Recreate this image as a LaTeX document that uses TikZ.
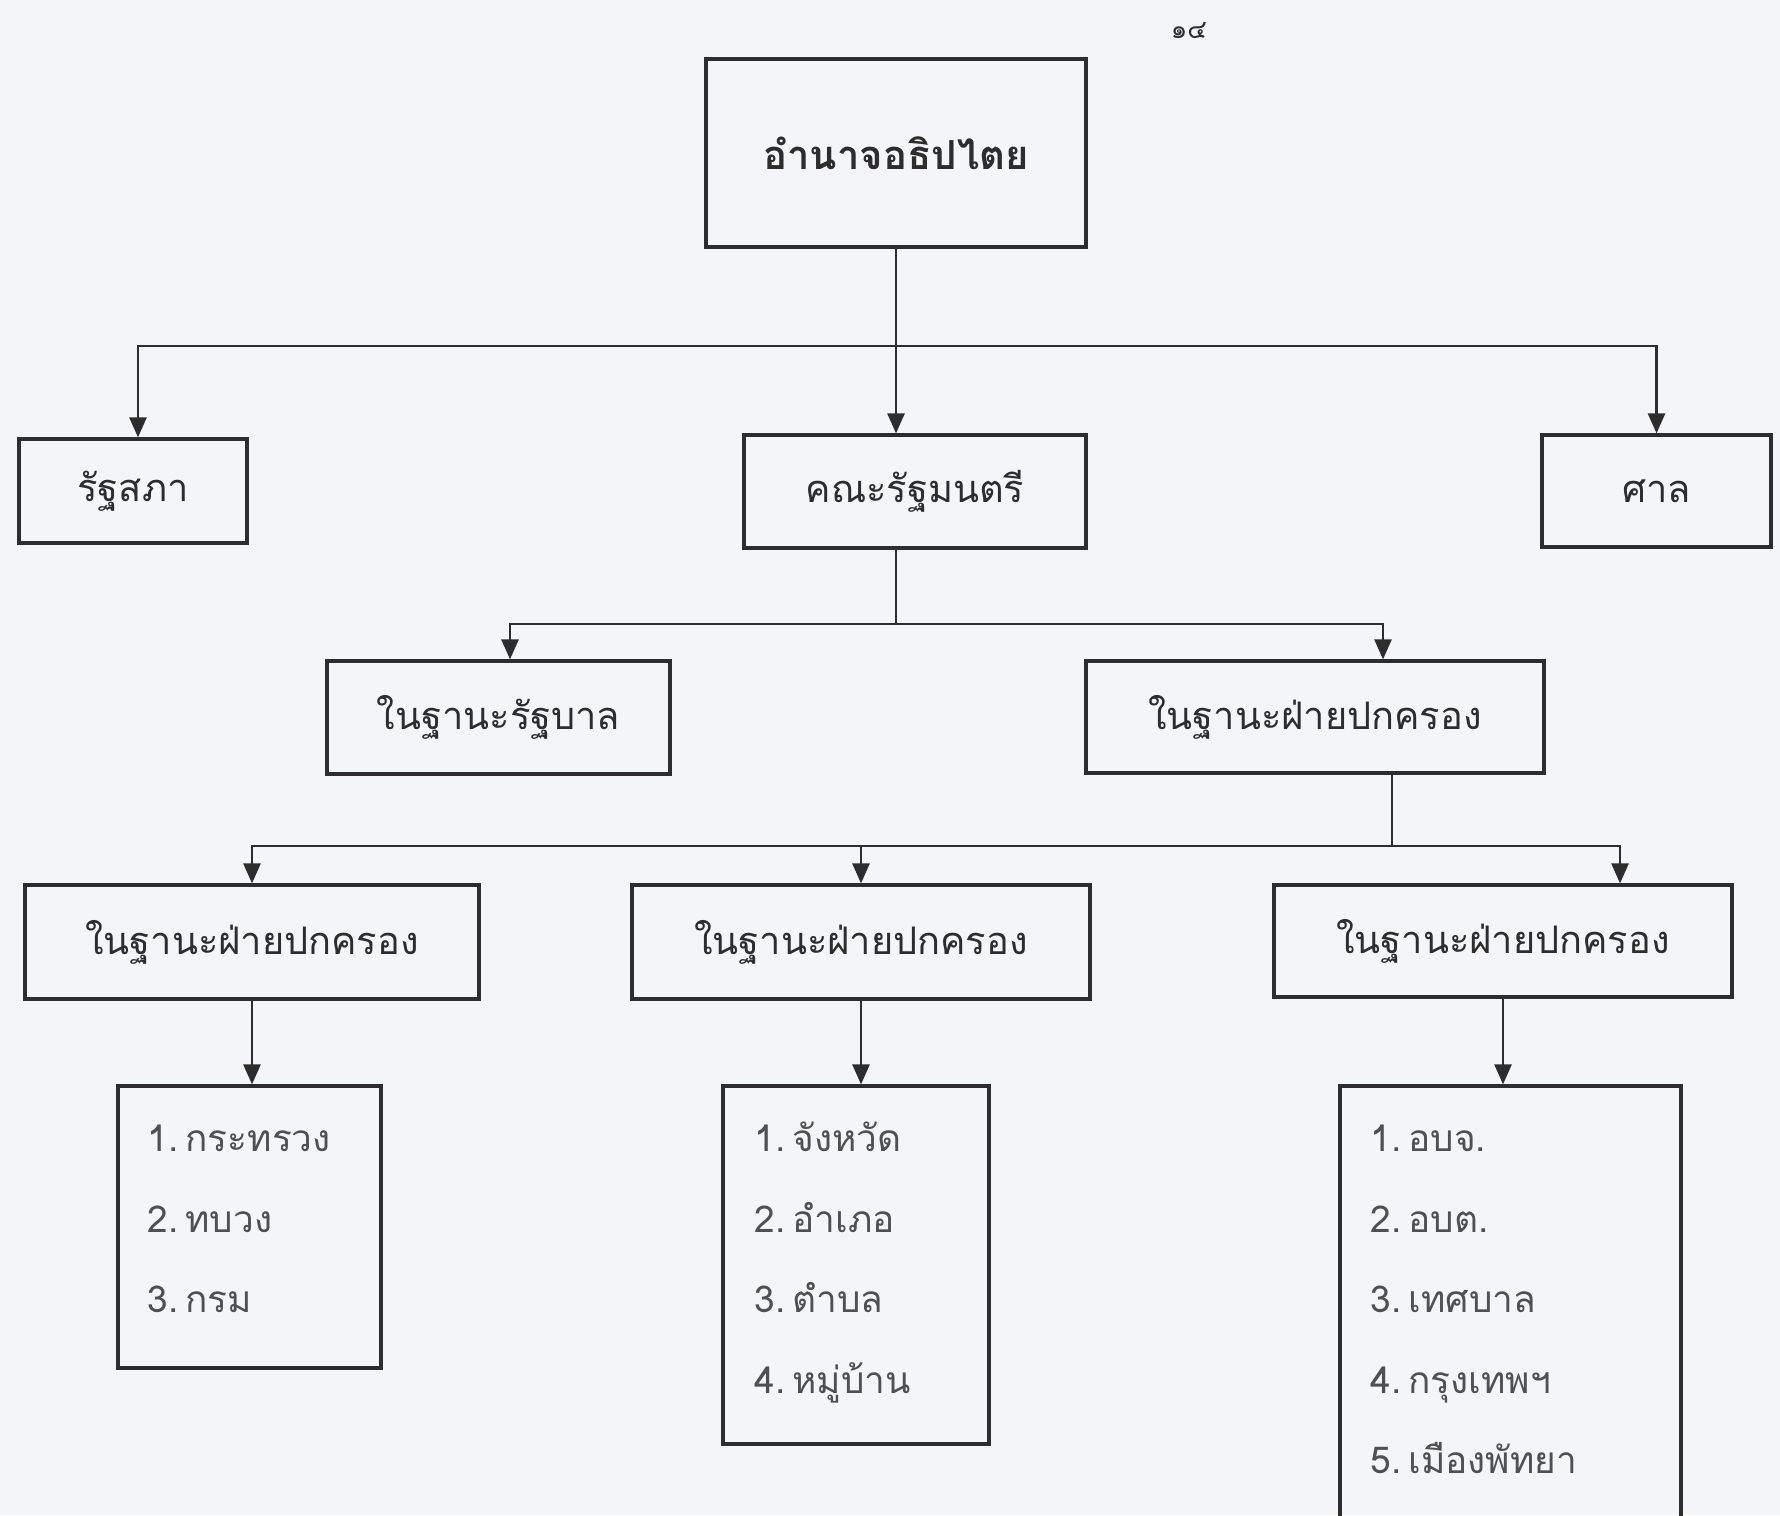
\documentclass[tikz,border=0pt]{standalone}
\usepackage{fontspec}
\newfontfamily\thaifont[Script=Thai]{Loma}
\usetikzlibrary{arrows.meta,positioning,calc}
\definecolor{paper}{RGB}{244,245,247}
\definecolor{inkgray}{RGB}{45,45,45}
\definecolor{listgray}{RGB}{80,80,80}

\begin{document}
\begin{tikzpicture}[
  x=0.5pt, y=-0.5pt,
  font=\thaifont,
  line width=1.3pt,
  draw=inkgray,
  arr/.style={-{Triangle[length=10pt,width=8.5pt]}},
  orgbox/.style={
    draw=inkgray,
    line width=1.6pt,
    text=inkgray,
    inner sep=0pt,
    font=\thaifont\fontsize{19}{23}\selectfont
    },
  listbox/.style={draw=inkgray, line width=1.6pt, inner sep=0pt},
  item/.style={anchor=base west, inner sep=0pt, text=listgray,
    font=\thaifont\fontsize{18.5}{22}\selectfont}
]
\fill[paper] (0,0) rectangle (1780,1515);
\useasboundingbox (0,0) rectangle (1780,1515);

\node[text=inkgray, font=\thaifont\fontsize{13}{15}\selectfont] (pageno) at (1189,31) {๑๔};

% top level
\node[orgbox, minimum width=190pt, minimum height=94pt, font=\thaifont\bfseries\fontsize{20}{24}\selectfont] (top) at (896,153) {อำนาจอธิปไตย};

\node[orgbox, minimum width=114pt, minimum height=52pt] (parl) at (133,491) {รัฐสภา};
\node[orgbox, minimum width=171pt, minimum height=56.5pt] (cab) at (915,491.5) {คณะรัฐมนตรี};
\node[orgbox, minimum width=114.5pt, minimum height=56pt] (court) at (1656.5,491) {ศาล};

\node[orgbox, minimum width=171.5pt, minimum height=56.5pt] (govt) at (498.5,717.5) {ในฐานะรัฐบาล};
\node[orgbox, minimum width=229pt, minimum height=56pt] (admin) at (1315,717) {ในฐานะฝ่ายปกครอง};

\node[orgbox, minimum width=227pt, minimum height=57pt] (adL) at (252,942) {ในฐานะฝ่ายปกครอง};
\node[orgbox, minimum width=229pt, minimum height=57pt] (adM) at (861,942) {ในฐานะฝ่ายปกครอง};
\node[orgbox, minimum width=229pt, minimum height=56pt] (adR) at (1503,941) {ในฐานะฝ่ายปกครอง};

% list boxes
\node[listbox, minimum width=131.5pt, minimum height=141pt] (listL) at (249.5,1227) {};
\node[listbox, minimum width=133pt, minimum height=179pt] (listM) at (856,1265) {};
\node[listbox, minimum width=170.5pt, minimum height=237pt] (listR) at (1510.5,1323) {};

\foreach \t [count=\i] in {กระทรวง,ทบวง,กรม}
  \node[item] (Litem\i) at ([xshift=15pt,yshift={-33.5pt-40.3pt*(\i-1)}]listL.north west) {\i.\hspace{3.5pt}\t};
\foreach \t [count=\i] in {จังหวัด,อำเภอ,ตำบล,หมู่บ้าน}
  \node[item] (Mitem\i) at ([xshift=16pt,yshift={-33.5pt-40.3pt*(\i-1)}]listM.north west) {\i.\hspace{3.5pt}\t};
\foreach \t [count=\i] in {{อบจ.},{อบต.},เทศบาล,กรุงเทพฯ,เมืองพัทยา}
  \node[item] (Ritem\i) at ([xshift=15.5pt,yshift={-33.5pt-40.3pt*(\i-1)}]listR.north west) {\i.\hspace{3.5pt}\t};

% connectors
\coordinate (topjoin) at (top.south |- 0,346);
\draw (top.south) -- (topjoin);
\draw[arr] (topjoin) -| ([xshift=2.5pt]parl.north);
\draw[arr] (topjoin) -| (court.north);
\draw[arr] (topjoin) -- (topjoin |- cab.north);

\coordinate (cabjoin) at (topjoin |- 0,624);
\draw (cabjoin |- cab.south) -- (cabjoin);
\draw[arr] (cabjoin) -| ([xshift=5.75pt]govt.north);
\draw[arr] (cabjoin) -| ([xshift=34pt]admin.north);

\coordinate (admout) at ([xshift=38.5pt]admin.south);
\coordinate (admjoin) at (admout |- 0,846);
\draw (admout) -- (admjoin);
\draw[arr] (admjoin) -| (adL.north);
\draw[arr] (admjoin) -| (adM.north);
\draw[arr] (admjoin) -| ([xshift=58.5pt]adR.north);

\draw[arr] (adL.south) -- (adL.south |- listL.north);
\draw[arr] (adM.south) -- (adM.south |- listM.north);
\draw[arr] (adR.south) -- (adR.south |- listR.north);

\end{tikzpicture}
\end{document}
